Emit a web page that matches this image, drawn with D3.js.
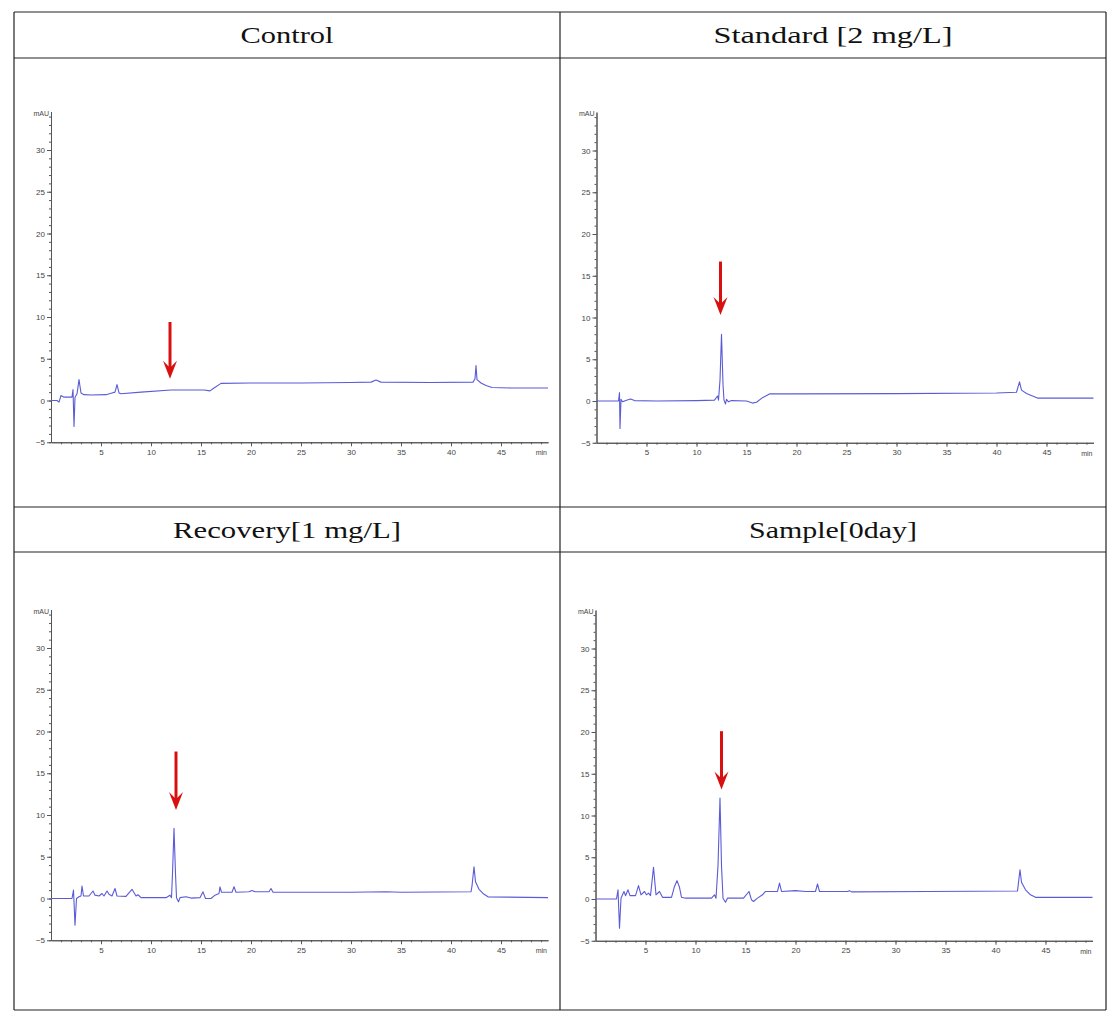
<!DOCTYPE html>
<html>
<head>
<meta charset="utf-8">
<script src="https://cdn.jsdelivr.net/npm/d3@7"></script>
<style>
  body { margin: 0; background: #fff; }
  svg { display: block; }
</style>
</head>
<body>
<svg id="chart" width="1117" height="1023"></svg>
<script>
// ---------- data ----------
const titles = ["Control", "Standard [2 mg/L]", "Recovery[1 mg/L]", "Sample[0day]"];

const yTicks = [-5, 0, 5, 10, 15, 20, 25, 30];
const xTicks = [5, 10, 15, 20, 25, 30, 35, 40, 45];

// chromatograms: [time (min), signal (mAU)]
const controlTrace = [[0,0],[0.6,0],[0.8,-0.2],[1.0,0.6],[1.3,0.4],[2.1,0.4],[2.2,1.3],[2.3,-3.1],[2.4,0.4],[2.6,0.8],[2.8,2.5],[3.0,0.9],[3.3,0.7],[4,0.65],[5.5,0.7],[6.1,0.9],[6.4,1.0],[6.6,1.9],[6.8,0.9],[7.0,0.8],[9,1.0],[12,1.25],[15.3,1.25],[15.9,1.15],[16.3,1.5],[17.0,2.05],[20,2.1],[25,2.1],[30,2.15],[32.0,2.2],[32.5,2.45],[33.0,2.2],[38,2.15],[42.2,2.2],[42.4,2.6],[42.5,4.2],[42.6,2.5],[43.0,2.1],[43.5,1.8],[44.1,1.55],[46,1.5],[49.7,1.5]];

const standardTrace = [[0,0],[2.2,0],[2.3,1.0],[2.35,-3.3],[2.45,0.2],[2.6,-0.1],[3.0,0.1],[3.4,0.25],[3.8,0.05],[6,0],[10,0.05],[11.8,0.1],[12.1,0.6],[12.2,0.1],[12.35,2.5],[12.5,8.0],[12.65,2.0],[12.75,0.1],[12.9,-0.35],[13.0,0.2],[13.2,-0.1],[13.5,0.05],[15.0,0],[15.6,-0.25],[16.0,-0.15],[16.6,0.4],[17.3,0.85],[20,0.85],[30,0.88],[40,0.95],[42.0,1.05],[42.3,2.3],[42.5,1.3],[43.0,0.9],[43.6,0.6],[44.1,0.35],[49.7,0.35]];

const recoveryTrace = [[0,0],[2.1,0],[2.25,1.0],[2.4,-3.2],[2.55,0],[2.8,0.2],[3.0,0.3],[3.1,1.5],[3.25,0.3],[3.8,0.3],[4.2,0.9],[4.4,0.4],[4.8,0.3],[5.1,0.6],[5.3,0.3],[5.6,0.9],[5.8,0.5],[6.1,0.3],[6.4,1.2],[6.6,0.3],[7.5,0.25],[8.1,1.1],[8.5,0.3],[8.7,0.45],[9.0,0.1],[11.5,0.1],[11.9,0.4],[12.05,0.1],[12.15,3.0],[12.3,8.4],[12.45,3.0],[12.55,0.1],[12.75,-0.4],[12.9,0.1],[13.5,0.2],[14,0.05],[14.9,0.1],[15.2,0.8],[15.45,0],[16.0,0],[16.4,0.4],[16.8,0.6],[16.9,1.4],[17.05,0.75],[18.1,0.75],[18.3,1.4],[18.5,0.75],[19.8,0.8],[20.1,0.95],[20.4,0.8],[21.8,0.8],[22.0,1.2],[22.2,0.75],[30,0.75],[33.5,0.8],[35,0.75],[42.0,0.8],[42.1,1.5],[42.3,3.8],[42.45,2.0],[42.8,1.1],[43.2,0.6],[43.7,0.2],[49.7,0.1]];

const sampleTrace = [[0,0],[2.1,0],[2.25,1.1],[2.4,-3.5],[2.55,0.1],[2.7,0.5],[2.85,0.9],[3.0,0.4],[3.25,1.1],[3.45,0.4],[4.0,0.4],[4.3,1.6],[4.55,0.5],[4.9,0.9],[5.1,0.5],[5.3,0.7],[5.5,0.4],[5.8,3.8],[6.05,0.5],[6.4,0.9],[6.7,0.2],[7.6,0.2],[7.9,1.5],[8.15,2.2],[8.4,1.4],[8.6,0.2],[9.0,0.1],[11.6,0.1],[11.9,0.5],[12.05,0.1],[12.25,4.0],[12.45,12.1],[12.6,4.0],[12.75,0.1],[13.0,-0.4],[13.2,0.1],[14.8,0.1],[15.35,0.9],[15.6,-0.1],[15.8,-0.3],[16.2,0.1],[16.7,0.5],[17.0,0.9],[18.2,0.9],[18.4,1.9],[18.6,0.9],[20.0,1.0],[21.0,0.9],[22.0,0.9],[22.2,1.8],[22.4,0.9],[25.2,0.9],[25.4,1.0],[25.6,0.85],[33.3,0.9],[42.2,0.95],[42.35,2.5],[42.45,3.5],[42.6,2.0],[43.0,1.1],[43.5,0.5],[44.0,0.2],[49.7,0.2]];

const traces = [controlTrace, standardTrace, recoveryTrace, sampleTrace];

// red arrows: time (min), start and tip (mAU)
const arrowTimes = [11.9, 12.4, 12.5, 12.6];
const arrowTops  = [9.4, 16.7, 17.6, 20.1];
const arrowTips  = [2.6, 10.3, 10.6, 13.1];

// ---------- layout ----------
const svg = d3.select("#chart");
svg.append("rect").attr("width", 1117).attr("height", 1023).attr("fill", "#fff");

const tblX = [14, 560, 1106];
const tblY = [12, 58, 507, 552, 1010];

// panel origins: x of time 0, y of 0 mAU
const panels = [
  {x0: 51,    y0: 400.5, hx: 287, hy: 35},
  {x0: 596.5, y0: 401,   hx: 833, hy: 35},
  {x0: 51,    y0: 898.5, hx: 287, hy: 530},
  {x0: 595.5, y0: 899,   hx: 833, hy: 530}
];
const titleWidths = [93, 239, 228, 168];

const pxPerMin = 10.0;
const pxPerMAU = 8.35;
const xMax = 49.7, yMin = -5, yMax = 34.6;

const traceColor = "#5b5bd8";
const axisColor = "#555";

panels.forEach((p, i) => {
  const x = d3.scaleLinear().domain([0, xMax]).range([p.x0, p.x0 + xMax * pxPerMin]);
  const y = d3.scaleLinear().domain([yMin, yMax]).range([p.y0 - yMin * pxPerMAU, p.y0 - yMax * pxPerMAU]);
  const g = svg.append("g");

  // minor ticks
  const minorY = d3.range(yMin, Math.floor(yMax) + 1, 1);
  const minorX = d3.range(1, Math.floor(xMax) + 1, 1);
  g.append("g").attr("transform", `translate(${p.x0},0)`)
    .call(d3.axisLeft(y).tickValues(minorY).tickSize(2).tickFormat("").tickSizeOuter(0))
    .call(s => s.selectAll("line,path").attr("stroke", axisColor));
  g.append("g").attr("transform", `translate(0,${y(yMin)})`)
    .call(d3.axisBottom(x).tickValues(minorX).tickSize(2).tickFormat("").tickSizeOuter(0))
    .call(s => s.selectAll("line,path").attr("stroke", axisColor));

  // major ticks
  const ya = g.append("g").attr("transform", `translate(${p.x0},0)`)
    .call(d3.axisLeft(y).tickValues(yTicks).tickSize(4).tickPadding(2).tickSizeOuter(0));
  const xa = g.append("g").attr("transform", `translate(0,${y(yMin)})`)
    .call(d3.axisBottom(x).tickValues(xTicks).tickSize(4).tickPadding(3).tickSizeOuter(0));
  [ya, xa].forEach(a => {
    a.selectAll("line,path").attr("stroke", axisColor);
    a.selectAll("text").attr("fill", "#444")
      .style("font-family", "'Liberation Sans Narrow','Liberation Sans',Arial,sans-serif")
      .style("font-size", "8px");
  });

  g.append("text").attr("x", p.x0 - 2).attr("y", y(yMax) + 4)
    .attr("text-anchor", "end").attr("fill", "#444")
    .style("font-family", "'Liberation Sans Narrow','Liberation Sans',Arial,sans-serif")
    .style("font-size", "7px").text("mAU");
  g.append("text").attr("x", x(xMax) - 1).attr("y", y(yMin) + 13)
    .attr("text-anchor", "end").attr("fill", "#444")
    .style("font-family", "'Liberation Sans Narrow','Liberation Sans',Arial,sans-serif")
    .style("font-size", "7px").text("min");

  // trace
  const line = d3.line().x(d => x(d[0])).y(d => y(d[1]));
  g.append("path").datum(traces[i]).attr("d", line)
    .attr("fill", "none").attr("stroke", traceColor).attr("stroke-width", 1.1)
    .attr("stroke-linejoin", "round");

  // arrow
  const ax = x(arrowTimes[i]);
  const aTop = y(arrowTops[i]);
  const aTip = y(arrowTips[i]);
  const headH = 18, headW = 7;
  g.append("line").attr("x1", ax).attr("x2", ax).attr("y1", aTop).attr("y2", aTip - 6)
    .attr("stroke", "#d81010").attr("stroke-width", 3);
  g.append("path")
    .attr("d", `M${ax},${aTip} L${ax - headW},${aTip - headH} L${ax},${aTip - headH + 7} L${ax + headW},${aTip - headH} Z`)
    .attr("fill", "#d81010");

  // header title
  svg.append("text").attr("x", p.hx).attr("y", p.hy)
    .attr("text-anchor", "middle").attr("dominant-baseline", "central")
    .attr("textLength", titleWidths[i]).attr("lengthAdjust", "spacingAndGlyphs")
    .style("font-family", "'Liberation Serif','DejaVu Serif',serif")
    .style("font-size", "23px").attr("fill", "#111")
    .text(titles[i]);
});

// table grid
const tg = svg.append("g").attr("stroke", "#222").attr("stroke-width", 1.2);
tblY.forEach(v => tg.append("line").attr("x1", tblX[0]).attr("x2", tblX[2]).attr("y1", v).attr("y2", v));
tblX.forEach(v => tg.append("line").attr("x1", v).attr("x2", v).attr("y1", tblY[0]).attr("y2", tblY[4]));
</script>
</body>
</html>
